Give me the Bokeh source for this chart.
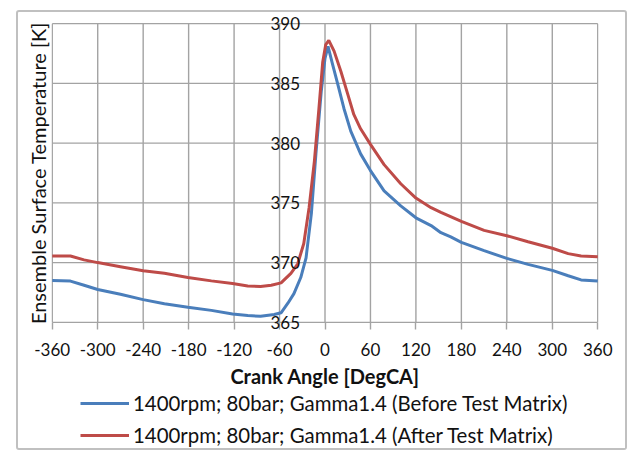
from bokeh.plotting import figure
from bokeh.layouts import column
from bokeh.models import (Range1d, FixedTicker, LinearAxis, Legend, LegendItem)
from bokeh.embed import file_html
from bokeh.resources import INLINE

# ---------------- data ----------------
crank_before = [-360, -336, -318, -300, -270, -240, -212, -181, -150, -122,
                -102, -85, -67, -58, -49, -41, -32, -25, -18, -12,
                -5, 0, 4, 10, 17, 25, 34, 47, 60, 78,
                100, 120, 140, 153, 166, 180, 210, 240, 268, 300,
                321, 338, 360]
temp_before = [368.5, 368.45, 368.1, 367.75, 367.35, 366.9, 366.55, 366.27, 366.0, 365.7,
               365.57, 365.5, 365.65, 365.8, 366.6, 367.4, 368.75, 370.4, 374.1, 379.1,
               384.3, 387.1, 388.1, 386.6, 384.9, 382.9, 381.0, 379.1, 377.7, 376.0,
               374.75, 373.75, 373.1, 372.5, 372.15, 371.7, 371.0, 370.35, 369.85, 369.35,
               368.9, 368.55, 368.45]

crank_after = [-360, -336, -318, -300, -270, -240, -212, -181, -150, -122,
               -102, -85, -71, -58, -45, -36, -28, -21, -14, -8,
               -3, 1, 5, 12, 21, 30, 38, 47, 60, 78,
               100, 120, 140, 153, 180, 210, 240, 268, 300, 321,
               338, 360]
temp_after = [370.55, 370.55, 370.23, 370.0, 369.66, 369.32, 369.1, 368.76, 368.47, 368.25,
              368.05, 368.0, 368.1, 368.3, 369.1, 369.9, 371.6, 374.6, 378.5, 382.9,
              386.8, 388.25, 388.6, 387.7, 386.0, 384.1, 382.4, 381.2, 379.9, 378.2,
              376.6, 375.4, 374.6, 374.2, 373.45, 372.7, 372.25, 371.75, 371.2, 370.75,
              370.55, 370.5]

x_ticks = [-360, -300, -240, -180, -120, -60, 0, 60, 120, 180, 240, 300, 360]
x_tick_labels = ["-360", "-300", "-240", "-180", "-120", "-60", "0",
                 "60", "120", "180", "240", "300", "360"]
y_ticks = [365, 370, 375, 380, 385, 390]
y_tick_labels = ["365", "370", "375", "380", "385", "390"]
y_axis_cross = 0
series_names = ["1400rpm; 80bar; Gamma1.4 (Before Test Matrix)",
                "1400rpm; 80bar; Gamma1.4 (After Test Matrix)"]
x_title = "Crank Angle [DegCA]"
y_title = "Ensemble Surface Temperature [K]"

# ---------------- styling ----------------
FONT = "Lato"
GRID = "#a3a3a3"
BLUE = "#4a7ebb"
RED = "#be4b48"
TXT = "#111111"
X_PAD = 1.0      # small room so edge grid lines are not cut
Y_PAD = 0.6      # room for the 365 / 390 labels at the axis crossing

p = figure(width=607, height=379,
           x_range=Range1d(x_ticks[0] - X_PAD, x_ticks[-1] + X_PAD),
           y_range=Range1d(y_ticks[0] - Y_PAD, y_ticks[-1] + Y_PAD),
           output_backend="svg", toolbar_location=None,
           min_border_left=33, min_border_top=4, min_border_right=27,
           min_border_bottom=62)
p.background_fill_color = "white"
p.border_fill_color = "white"
p.outline_line_color = None
p.xgrid.visible = False
p.ygrid.visible = False

# grid lines limited to the plotted box
n, m = len(x_ticks), len(y_ticks)
p.segment(x0=x_ticks, y0=[y_ticks[0]] * n, x1=x_ticks, y1=[y_ticks[-1]] * n,
          line_color=GRID, line_width=1.4)
p.segment(x0=[x_ticks[0]] * m, y0=y_ticks, x1=[x_ticks[-1]] * m, y1=y_ticks,
          line_color=GRID, line_width=1.4)

# x axis
xa = p.xaxis[0]
xa.ticker = FixedTicker(ticks=x_ticks)
xa.major_label_overrides = {t: s for t, s in zip(x_ticks, x_tick_labels)}
xa.axis_line_color = None
xa.major_tick_line_color = GRID
xa.major_tick_line_width = 1.4
xa.major_tick_in = 7
xa.major_tick_out = 0
xa.minor_tick_line_color = None
xa.major_label_text_font = FONT
xa.major_label_text_font_size = "17px"
xa.major_label_text_color = TXT
xa.major_label_standoff = 13
xa.axis_label = x_title
xa.axis_label_text_font = FONT
xa.axis_label_text_font_size = "20px"
xa.axis_label_text_font_style = "bold"
xa.axis_label_text_color = TXT
xa.axis_label_standoff = 5

# y axis on the left side: only its title
ya = p.yaxis[0]
ya.ticker = FixedTicker(ticks=[])
ya.axis_line_color = None
ya.major_tick_line_color = None
ya.minor_tick_line_color = None
ya.axis_label = y_title
ya.axis_label_text_font = FONT
ya.axis_label_text_font_size = "20px"
ya.axis_label_text_font_style = "normal"
ya.axis_label_text_color = TXT
ya.axis_label_standoff = 2

# y tick labels on an axis that crosses at x = 0
ya0 = LinearAxis(fixed_location=y_axis_cross,
                 ticker=FixedTicker(ticks=y_ticks),
                 major_label_overrides={t: s for t, s in zip(y_ticks, y_tick_labels)},
                 axis_line_color=None, major_tick_line_color=None,
                 minor_tick_line_color=None,
                 major_label_standoff=19,
                 major_label_text_font=FONT, major_label_text_font_size="17px",
                 major_label_text_color=TXT)
p.add_layout(ya0, "left")

# series
p.line(crank_before, temp_before, line_color=BLUE, line_width=3)
p.line(crank_after, temp_after, line_color=RED, line_width=3)

# ---------------- legend strip below the chart ----------------
q = figure(width=607, height=57, x_range=Range1d(0, 1), y_range=Range1d(0, 1),
           output_backend="svg", toolbar_location=None,
           min_border_left=0, min_border_right=0, min_border_top=0,
           min_border_bottom=0)
q.axis.visible = False
q.grid.visible = False
q.outline_line_color = None
q.background_fill_color = "white"
q.border_fill_color = "white"
lb = q.line(crank_before, temp_before, line_color=BLUE, line_width=3)
la = q.line(crank_after, temp_after, line_color=RED, line_width=3)

legend = Legend(items=[LegendItem(label=series_names[0], renderers=[lb]),
                       LegendItem(label=series_names[1], renderers=[la])],
                location=(29, 1), orientation="vertical",
                border_line_color=None, background_fill_alpha=0,
                label_text_font=FONT, label_text_font_size="20.4px",
                label_text_color=TXT,
                glyph_width=49, glyph_height=20, label_standoff=4,
                label_height=20, spacing=8, padding=0, margin=0)
q.add_layout(legend, "center")

layout = column(p, q, spacing=0, margin=(10, 4, 5, 16),
                styles={"border": "2px solid #c0c0c0", "border-radius": "3px",
                        "background-color": "white"})

open("out.html", "w").write(file_html(layout, INLINE))
